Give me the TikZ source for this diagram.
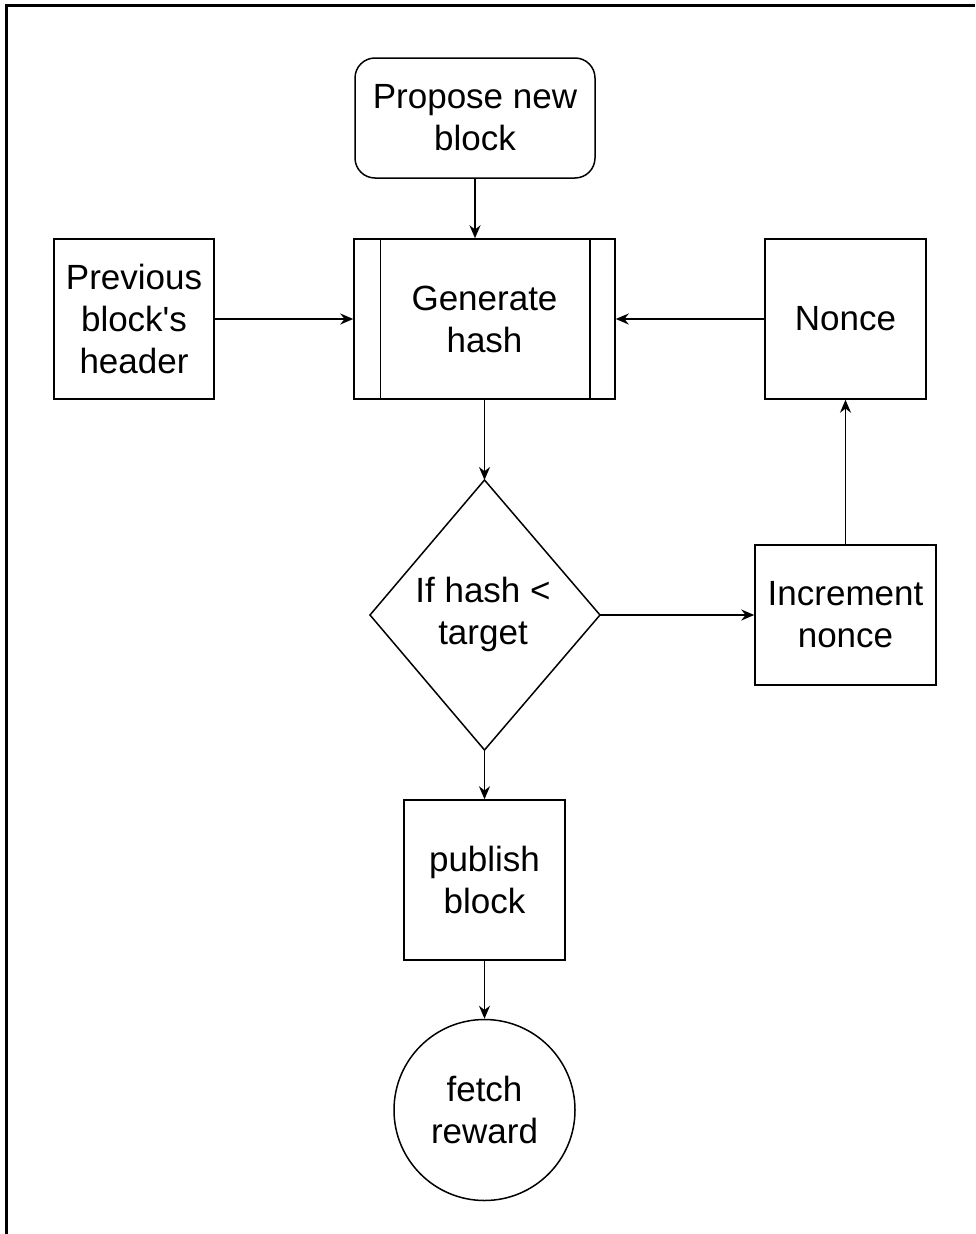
\documentclass[tikz,border=0pt]{standalone}
\usepackage{fontspec}
\setmainfont{Liberation Sans}[Ligatures=TeXOff]
\usetikzlibrary{arrows.meta,calc}
\tikzset{
  box/.style={draw=black, line width=1.5pt, inner sep=0pt, align=center, font=\fontsize{35}{42}\selectfont},
  lbl/.style={inner sep=0pt, align=center, font=\fontsize{35}{42}\selectfont},
  arr/.style={draw=black, line width=1.5pt, -{Stealth[length=13pt,width=11pt]}}
}
\begin{document}
\begin{tikzpicture}[x=1pt,y=-1pt]
\useasboundingbox (0,0) rectangle (975,1234);
\draw[line width=3pt] (6.5,1234) -- (6.5,5) -- (975,5);

\node[box, rounded corners=20pt, minimum width=240pt, minimum height=120pt] (prop) at (475,118) {Propose new\\block};
\node[box, minimum width=261pt, minimum height=160pt] (gen) at (484.5,319) {Generate\\hash};
\draw[line width=1.5pt] ($(gen.north west)+(27,0)$) -- ($(gen.south west)+(27,0)$);
\draw[line width=1.5pt] ($(gen.north east)+(-26,0)$) -- ($(gen.south east)+(-26,0)$);
\node[box, minimum width=160pt, minimum height=160pt] (prev) at (134,319) {Previous\\block's\\header};
\node[box, minimum width=161pt, minimum height=160pt] (nonce) at (845.5,319) {Nonce};
\node[lbl] (dec) at (483,614) {If hash <\\target};
\coordinate (dtop) at (484.5,480);
\coordinate (dright) at (600,615);
\coordinate (dbot) at (484.5,750);
\coordinate (dleft) at (370,615);
\draw[line width=1.5pt] (dtop) -- (dright) -- (dbot) -- (dleft) -- cycle;
\node[box, minimum width=181pt, minimum height=140pt] (inc) at (845.5,615) {Increment\\nonce};
\node[box, minimum width=161pt, minimum height=160pt] (pub) at (484.5,880) {publish\\block};
\node[box, circle, minimum size=181pt] (fetch) at (484.5,1110) {fetch\\reward};

\draw[arr] (prop.south -| gen.north) ++(-9.5,0) coordinate (ps) -- (ps |- gen.north);
\draw[arr] (prev.east) -- (gen.west);
\draw[arr] (nonce.west) -- (gen.east);
\draw[arr] (gen.south) -- (dtop);
\draw[arr] (dright) -- (inc.west);
\draw[arr] (inc.north) -- (nonce.south);
\draw[arr] (dbot) -- (pub.north);
\draw[arr] (pub.south) -- (fetch.north);
\end{tikzpicture}
\end{document}
